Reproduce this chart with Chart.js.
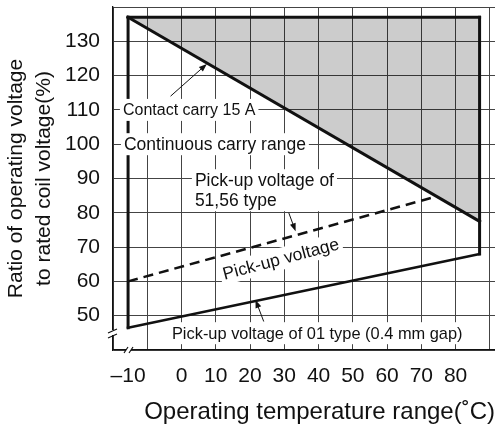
<!DOCTYPE html>
<html>
<head>
<meta charset="utf-8">
<title>Operating voltage range</title>
<script src="https://cdn.jsdelivr.net/npm/chart.js@4/dist/chart.umd.min.js"></script>
<style>
  html, body { margin: 0; padding: 0; background: #fff; }
  #wrap { width: 495px; height: 433px; }
</style>
</head>
<body>
<div id="wrap"><canvas id="rangeChart" width="495" height="433"></canvas></div>
<script>
/* ========================================
   Data
   ======================================== */

// ends of the operating temperature range (°C)
const rangeTemps = [-10, 87];
const upperLimit = [137, 137];          // top of the carry range
const contactCarry15A = [137, 77.5];    // contact carry 15 A
const pickup01 = [46.5, 68];            // pick-up voltage of 01 type (0.4 mm gap)
const pickup5156Temps = [-10, 73.5];
const pickup5156 = [60, 84.5];          // pick-up voltage of 51,56 type

const xTickTemps = [-10, 0, 10, 20, 30, 40, 50, 60, 70, 80];
const xTickLabels = ['–10', '0', '10', '20', '30', '40', '50', '60', '70', '80'];
const yTickValues = [50, 60, 70, 80, 90, 100, 110, 120, 130];

/* ========================================
   Helpers
   ======================================== */

const FONT = '"Liberation Sans", Arial, Helvetica, sans-serif';
const INK = '#111';
const GRID = '#444';

// the axis is broken between -10 and 0, the -10 column sits a bit wider out
const BREAK_STRETCH = 1.56;
function axisX(t) {
    return t < 0 ? t * BREAK_STRETCH : t;
}

function points(temps, values) {
    return temps.map((t, i) => ({ x: axisX(t), y: values[i] }));
}

const gridPositions = [-20, -10, 0, 10, 20, 30, 40, 50, 60, 70, 80, 90];
const breakLabelPos = axisX(-10);

function xLabelFor(value) {
    const i = xTickTemps.findIndex(t => Math.abs(axisX(t) - value) < 1e-6);
    if (i < 0) return '';
    if (xTickTemps[i] < 0 && value !== breakLabelPos) return '';
    return xTickLabels[i];
}

// keep the plot area fixed, labels may hang over the edges
function noScalePadding(scale) {
    scale.paddingTop = 0;
    scale.paddingBottom = 0;
    scale.paddingLeft = 0;
    scale.paddingRight = 0;
}

/* ========================================
   Annotations (labels, arrows, axis breaks)
   ======================================== */

const notes = [
    { lines: ['Contact carry 15 A'], x: -17.1, y: 110, size: 16 },
    { lines: ['Continuous carry range'], x: -16.8, y: 100, size: 17.5 },
    { lines: ['Pick-up voltage of', '51,56 type'], x: 3.9, y: 89.5, size: 17.5 },
    { lines: ['Pick-up voltage of 01 type (0.4 mm gap)'], x: -2.8, y: 44.9, size: 16.4 },
    { lines: ['Pick-up voltage'], x: 29, y: 66.6, size: 17.5, angle: -15, center: true }
];

const arrows = [
    { from: [-3.2, 114.0], to: [7.4, 123.4] },
    { from: [31.3, 80.0], to: [33.3, 74.6] },
    { from: [24.0, 48.3], to: [21.6, 54.6] }
];

function drawArrow(ctx, x1, y1, x2, y2) {
    const ang = Math.atan2(y2 - y1, x2 - x1);
    const len = 8, hw = 3;
    ctx.beginPath();
    ctx.moveTo(x1, y1);
    ctx.lineTo(x2 - Math.cos(ang) * len * 0.8, y2 - Math.sin(ang) * len * 0.8);
    ctx.stroke();
    ctx.beginPath();
    ctx.moveTo(x2, y2);
    ctx.lineTo(x2 - Math.cos(ang) * len - Math.sin(ang) * hw, y2 - Math.sin(ang) * len + Math.cos(ang) * hw);
    ctx.lineTo(x2 - Math.cos(ang) * len + Math.sin(ang) * hw, y2 - Math.sin(ang) * len - Math.cos(ang) * hw);
    ctx.closePath();
    ctx.fill();
}

const notesPlugin = {
    id: 'notes',
    afterDatasetsDraw(chart) {
        const ctx = chart.ctx;
        const xs = chart.scales.x, ys = chart.scales.y;
        const lh = 20, pad = 3;

        ctx.save();
        ctx.textBaseline = 'middle';
        notes.forEach(n => {
            ctx.font = n.size + 'px ' + FONT;
            const px = xs.getPixelForValue(n.x);
            const py = ys.getPixelForValue(n.y);
            const w = Math.max(...n.lines.map(t => ctx.measureText(t).width));
            const h = lh * n.lines.length;
            ctx.save();
            ctx.translate(px, py);
            ctx.rotate((n.angle || 0) * Math.PI / 180);
            const left = n.center ? -w / 2 : 0;
            const top = n.center ? -h / 2 : -lh / 2;
            ctx.fillStyle = '#fff';
            ctx.fillRect(left - pad, top - 1, w + pad * 2, h + 2);
            ctx.fillStyle = INK;
            ctx.textAlign = 'left';
            n.lines.forEach((t, i) => ctx.fillText(t, left, top + lh / 2 + i * lh + 1));
            ctx.restore();
        });

        ctx.strokeStyle = INK;
        ctx.fillStyle = INK;
        ctx.lineWidth = 1;
        arrows.forEach(a => {
            drawArrow(ctx,
                xs.getPixelForValue(a.from[0]), ys.getPixelForValue(a.from[1]),
                xs.getPixelForValue(a.to[0]), ys.getPixelForValue(a.to[1]));
        });
        ctx.restore();
    },
    afterDraw(chart) {
        // axis break marks at the bottom-left corner
        const ctx = chart.ctx;
        const { left, bottom } = chart.chartArea;
        ctx.save();
        ctx.fillStyle = '#fff';
        ctx.fillRect(left - 2, bottom - 20, 4, 5);
        ctx.fillRect(left + 13, bottom - 2, 5, 4);
        ctx.strokeStyle = INK;
        ctx.lineWidth = 1.2;
        ctx.beginPath();
        ctx.moveTo(left - 5, bottom - 17); ctx.lineTo(left + 4, bottom - 21);
        ctx.moveTo(left - 5, bottom - 12); ctx.lineTo(left + 4, bottom - 16);
        ctx.moveTo(left + 11, bottom + 3); ctx.lineTo(left + 15, bottom - 3);
        ctx.moveTo(left + 16, bottom + 3); ctx.lineTo(left + 20, bottom - 3);
        ctx.stroke();
        ctx.restore();
    }
};

/* ========================================
   Chart
   ======================================== */

function thickLine(data, extra) {
    return Object.assign({
        data: data,
        borderColor: INK,
        borderWidth: 3,
        pointRadius: 0,
        tension: 0,
        fill: false,
        borderCapStyle: 'square',
        borderJoinStyle: 'miter'
    }, extra || {});
}

function initRangeChart() {
    const canvas = document.getElementById('rangeChart');
    if (!canvas) return;

    new Chart(canvas.getContext('2d'), {
        type: 'line',
        data: {
            datasets: [
                thickLine(points(rangeTemps, upperLimit)),
                thickLine(points(rangeTemps, contactCarry15A), {
                    fill: '-1',
                    backgroundColor: 'rgba(0, 0, 0, 0.2)'
                }),
                thickLine([
                    { x: axisX(rangeTemps[0]), y: pickup01[0] },
                    { x: axisX(rangeTemps[0]), y: upperLimit[0] }
                ]),
                thickLine([
                    { x: axisX(rangeTemps[1]), y: pickup01[1] },
                    { x: axisX(rangeTemps[1]), y: upperLimit[1] }
                ]),
                thickLine(points(pickup5156Temps, pickup5156), {
                    borderWidth: 2.5,
                    borderDash: [10, 6],
                    borderCapStyle: 'butt'
                }),
                thickLine(points(rangeTemps, pickup01), { borderWidth: 2.6 })
            ]
        },
        options: {
            responsive: false,
            animation: false,
            events: [],
            layout: { padding: { top: 7, right: 0, left: 0, bottom: 0 } },
            plugins: {
                legend: { display: false },
                tooltip: { enabled: false }
            },
            scales: {
                x: {
                    type: 'linear',
                    min: -20,
                    max: 91.5,
                    afterBuildTicks: function (scale) {
                        scale.ticks = gridPositions.concat([breakLabelPos])
                            .sort((a, b) => a - b)
                            .map(v => ({ value: v }));
                    },
                    afterFit: function (scale) {
                        scale.height = 83;
                        noScalePadding(scale);
                    },
                    grid: {
                        color: ctx => (ctx.tick && ctx.tick.value === breakLabelPos) ? 'rgba(0,0,0,0)' : GRID,
                        lineWidth: 1,
                        drawTicks: false
                    },
                    border: { color: INK, width: 1.3 },
                    ticks: {
                        autoSkip: false,
                        maxRotation: 0,
                        padding: 14,
                        color: INK,
                        font: { family: FONT, size: 21 },
                        callback: value => xLabelFor(value)
                    },
                    title: {
                        display: true,
                        text: 'Operating temperature range(˚C)',
                        align: 'end',
                        color: INK,
                        font: { family: FONT, size: 24 },
                        padding: { top: 0, bottom: 6 }
                    }
                },
                y: {
                    type: 'linear',
                    min: 40,
                    max: 140,
                    afterFit: function (scale) {
                        scale.width = 113;
                        noScalePadding(scale);
                    },
                    grid: { color: GRID, lineWidth: 1, drawTicks: false },
                    border: { color: INK, width: 1.3 },
                    ticks: {
                        stepSize: 10,
                        padding: 13,
                        color: INK,
                        font: { family: FONT, size: 21 },
                        callback: value => yTickValues.includes(value) ? String(value) : ''
                    },
                    title: {
                        display: true,
                        text: ['Ratio of operating voltage', 'to rated coil voltage(%)'],
                        color: INK,
                        font: { family: FONT, size: 21, lineHeight: 1.35 },
                        padding: { top: 2, bottom: 0 }
                    }
                }
            }
        },
        plugins: [notesPlugin]
    });
}

document.addEventListener('DOMContentLoaded', initRangeChart);
</script>
</body>
</html>
